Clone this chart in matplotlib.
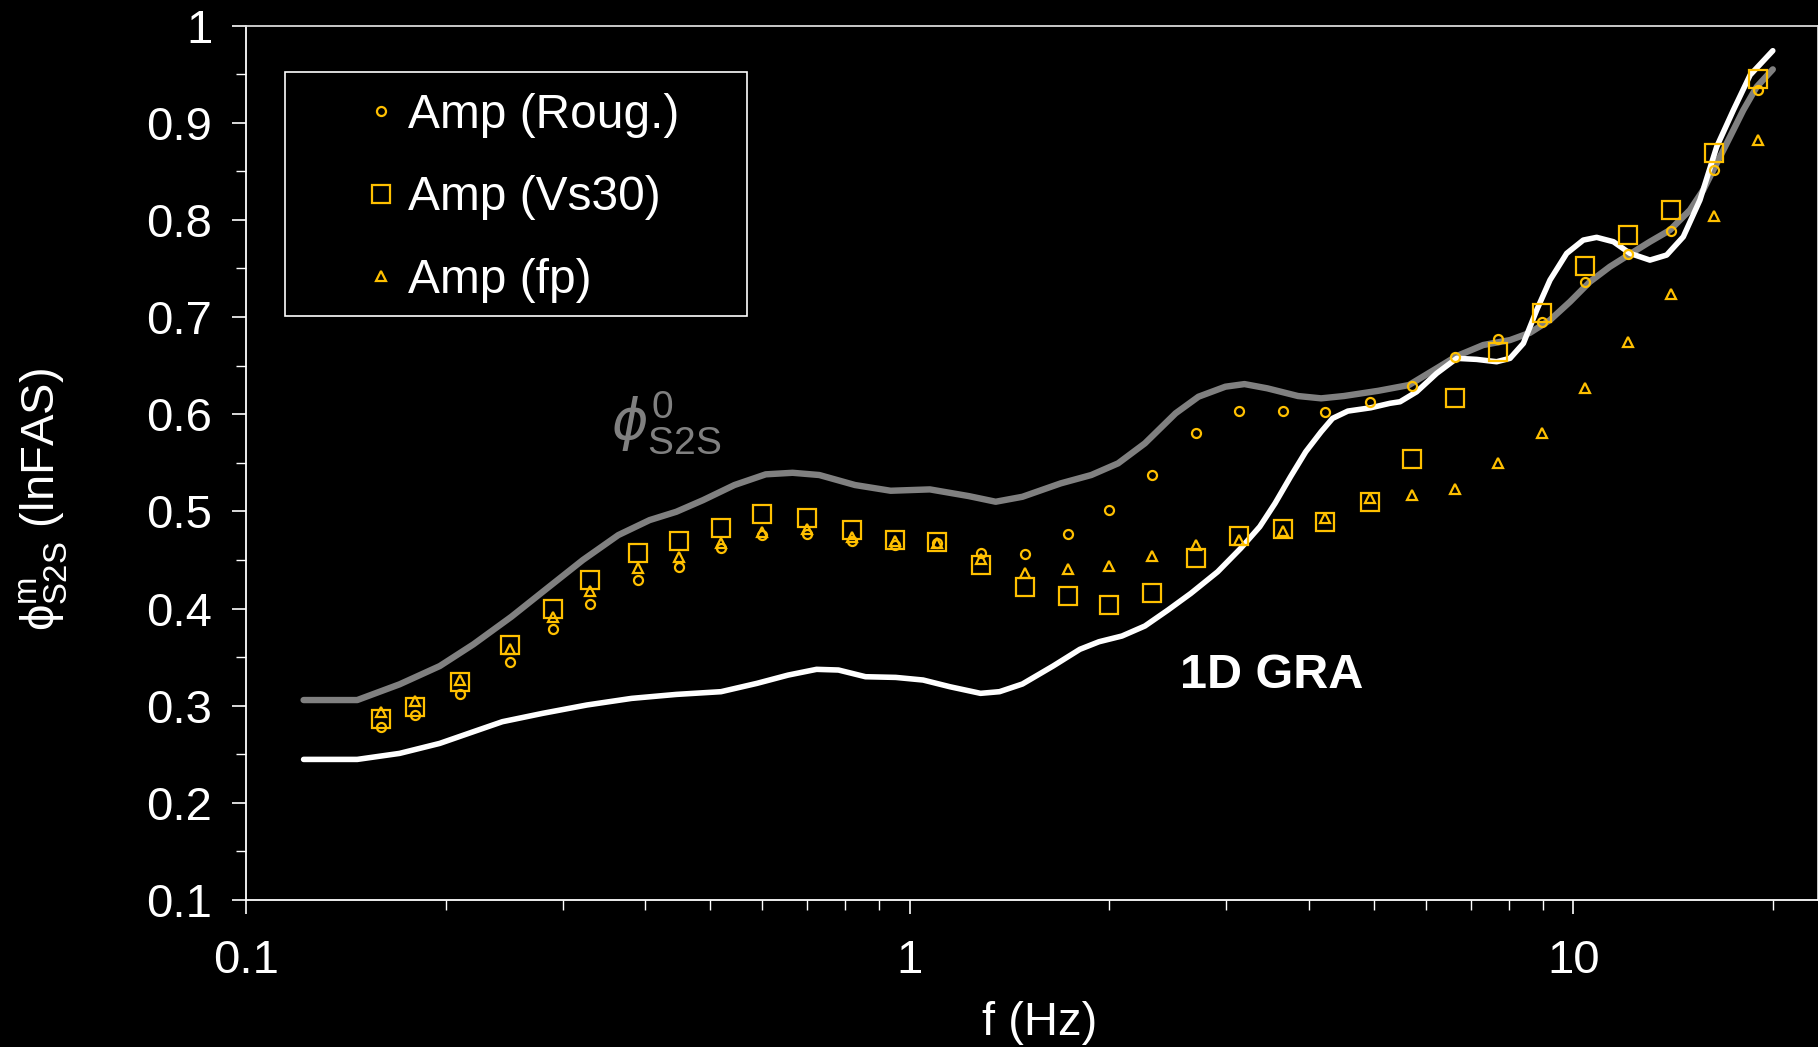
import matplotlib
matplotlib.use('Agg')
import matplotlib.pyplot as plt
from matplotlib.patches import Rectangle
from matplotlib.ticker import FixedLocator, MultipleLocator, NullFormatter, LogLocator

plt.rcParams['font.family'] = ['Liberation Sans', 'DejaVu Sans']
plt.rcParams['mathtext.fontset'] = 'custom'
plt.rcParams['mathtext.rm'] = 'Liberation Sans'
plt.rcParams['mathtext.it'] = 'DejaVu Sans:italic'

# frequencies of the amplification-model points (Hz)
freq = [0.160, 0.180, 0.210, 0.250, 0.290, 0.330, 0.390, 0.450, 0.520, 0.600, 0.700,
        0.820, 0.950, 1.10, 1.28, 1.49, 1.73, 2.00, 2.32, 2.70, 3.14, 3.65, 4.23,
        4.93, 5.72, 6.63, 7.70, 8.97, 10.41, 12.08, 14.02, 16.27, 18.96]
amp_roug = [0.278, 0.290, 0.312, 0.345, 0.379, 0.405, 0.429, 0.443, 0.462, 0.476, 0.477,
            0.469, 0.465, 0.467, 0.457, 0.456, 0.477, 0.501, 0.537, 0.581, 0.603, 0.603,
            0.602, 0.613, 0.629, 0.659, 0.677, 0.695, 0.736, 0.765, 0.789, 0.851, 0.934]
amp_vs30 = [0.286, 0.299, 0.324, 0.362, 0.400, 0.429, 0.457, 0.469, 0.483, 0.497, 0.493,
            0.481, 0.471, 0.468, 0.445, 0.422, 0.413, 0.404, 0.416, 0.452, 0.475, 0.482,
            0.489, 0.510, 0.554, 0.617, 0.664, 0.704, 0.753, 0.784, 0.810, 0.869, 0.945]
amp_fp = [0.294, 0.305, 0.326, 0.358, 0.391, 0.418, 0.442, 0.453, 0.467, 0.479, 0.482,
          0.474, 0.469, 0.467, 0.451, 0.437, 0.441, 0.444, 0.454, 0.465, 0.471, 0.480,
          0.493, 0.514, 0.517, 0.523, 0.550, 0.581, 0.627, 0.674, 0.724, 0.804, 0.882]

# phi0_S2S curve (grey)
f_phi0 = [0.1222, 0.1472, 0.1705, 0.196, 0.2202, 0.2512, 0.2843, 0.3219, 0.3641, 0.4058,
          0.4453, 0.4887, 0.5447, 0.6071, 0.6663, 0.7311, 0.8275, 0.9364, 1.073, 1.228,
          1.348, 1.479, 1.689, 1.878, 2.061, 2.262, 2.516, 2.724, 2.990, 3.195, 3.459,
          3.847, 4.168, 4.511, 5.085, 5.653, 6.223, 6.672, 7.315, 8.027, 8.602, 9.221,
          9.883, 10.59, 11.35, 12.17, 13.04, 13.98, 14.98, 15.69, 16.44, 17.22, 18.03,
          18.89, 19.97]
phi0 = [0.3058, 0.3058, 0.3220, 0.3408, 0.3631, 0.3915, 0.4207, 0.4499, 0.4756, 0.4910,
        0.4996, 0.5116, 0.5271, 0.5381, 0.5397, 0.5374, 0.5271, 0.5212, 0.5226, 0.5157,
        0.5099, 0.5150, 0.5288, 0.5374, 0.5494, 0.5700, 0.6009, 0.6180, 0.6283, 0.6310,
        0.6266, 0.6187, 0.6163, 0.6187, 0.6241, 0.6300, 0.6472, 0.6598, 0.6712, 0.6763,
        0.6838, 0.6969, 0.7157, 0.7363, 0.7518, 0.7648, 0.7775, 0.7895, 0.8101, 0.8307,
        0.8582, 0.8856, 0.9130, 0.9370, 0.9549]

# 1D GRA curve (white)
f_gra = [0.1222, 0.1472, 0.1705, 0.196, 0.2202, 0.2435, 0.2800, 0.3265, 0.3812, 0.4453,
         0.5199, 0.5891, 0.6563, 0.7242, 0.7813, 0.8582, 0.9529, 1.048, 1.150, 1.279,
         1.366, 1.479, 1.645, 1.805, 1.929, 2.089, 2.262, 2.450, 2.653, 2.911, 3.153,
         3.369, 3.552, 3.748, 3.952, 4.168, 4.337, 4.573, 4.951, 5.291, 5.481, 5.806,
         6.223, 6.672, 7.150, 7.662, 8.027, 8.407, 8.805, 9.221, 9.770, 10.35, 10.84,
         11.49, 12.17, 13.04, 13.82, 14.64, 15.51, 16.44, 17.42, 18.46, 19.97]
gra = [0.2447, 0.2447, 0.2509, 0.2612, 0.2732, 0.2835, 0.2921, 0.3007, 0.3075, 0.3116,
       0.3144, 0.3230, 0.3315, 0.3374, 0.3367, 0.3298, 0.3291, 0.3264, 0.3195, 0.3127,
       0.3144, 0.3223, 0.3408, 0.3580, 0.3658, 0.3717, 0.3820, 0.3984, 0.4156, 0.4378,
       0.4619, 0.4842, 0.5082, 0.5356, 0.5614, 0.5819, 0.5957, 0.6032, 0.6066, 0.6112,
       0.6128, 0.6231, 0.6420, 0.6575, 0.6564, 0.6540, 0.6575, 0.6729, 0.7072, 0.7381,
       0.7655, 0.7792, 0.7820, 0.7775, 0.7655, 0.7586, 0.7638, 0.7826, 0.8204, 0.8753,
       0.9130, 0.9491, 0.9741]

gold = '#FFC000'
grey = '#808080'

fig = plt.figure(figsize=(18.18, 10.47), dpi=100, facecolor='black')
ax = fig.add_axes([0.1352, 0.1404, 0.8648, 0.8352])
ax.set_facecolor('black')

ax.plot(f_phi0, phi0, color=grey, lw=4.6, solid_joinstyle='round', solid_capstyle='round', zorder=2)
ax.plot(f_gra, gra, color='white', lw=4.0, solid_joinstyle='round', solid_capstyle='round', zorder=3)

h1, = ax.plot(freq, amp_roug, ls='none', marker='o', ms=6.5, mfc='none', mec=gold, mew=1.6,
              label='Amp (Roug.)', zorder=5)
h2, = ax.plot(freq, amp_vs30, ls='none', marker='s', ms=13.5, mfc='none', mec=gold, mew=1.6,
              label='Amp (Vs30)', zorder=4)
h3, = ax.plot(freq, amp_fp, ls='none', marker='^', ms=6.5, mfc='none', mec=gold, mew=1.6,
              label='Amp (fp)', zorder=5)

ax.set_xscale('log')
ax.set_xlim(0.1, 23.36)
ax.set_ylim(0.1, 1.0)

ax.xaxis.set_major_locator(FixedLocator([0.1, 1, 10]))
ax.set_xticklabels(['0.1', '1', '10'])
ax.xaxis.set_minor_locator(LogLocator(base=10, subs=range(2, 10)))
ax.xaxis.set_minor_formatter(NullFormatter())

yt = [0.1, 0.2, 0.3, 0.4, 0.5, 0.6, 0.7, 0.8, 0.9, 1.0]
ax.yaxis.set_major_locator(FixedLocator(yt))
ax.set_yticklabels(['0.1', '0.2', '0.3', '0.4', '0.5', '0.6', '0.7', '0.8', '0.9', '1'])
ax.yaxis.set_minor_locator(MultipleLocator(0.05))

ax.tick_params(which='major', direction='out', length=10, width=1.2, colors='white', labelsize=34)
ax.tick_params(which='minor', direction='out', length=7.5, width=1.0, colors='white')
ax.tick_params(axis='x', which='major', pad=18)
ax.tick_params(axis='y', which='major', pad=14)

for side in ['left', 'bottom']:
    ax.spines[side].set_color('white')
    ax.spines[side].set_linewidth(1.3)
for side in ['top', 'right']:
    ax.spines[side].set_color('#d9d9d9')
    ax.spines[side].set_linewidth(1.3)

# labels
fig.text(0.572, 0.0113, 'f (Hz)', ha='center', va='baseline', fontsize=34, color='white')
fig.text(0.024, 0.523, r'$\mathrm{ϕ^{m}_{S2S}}$ (lnFAS)', rotation=90, ha='center', va='center',
         fontsize=34, color='white')

ax.text(0.355, 0.591, r'$\mathit{ϕ}^{\mathrm{0}}_{\mathrm{S2S}}$', ha='left', va='center',
        fontsize=40, color=grey)
ax.text(3.515, 0.3186, '1D GRA', ha='center', va='baseline', fontsize=35, fontweight='bold',
        color='white')

# legend
leg = ax.legend(handles=[h1, h2, h3], loc='upper left', bbox_to_anchor=(0.1966, 0.9111),
                bbox_transform=fig.transFigure, frameon=False, fontsize=34.5, borderpad=0,
                borderaxespad=0, handlelength=1.0, handletextpad=0.05, labelspacing=0.78,
                numpoints=1)
for t in leg.get_texts():
    t.set_color('white')
fig.patches.append(Rectangle((0.1568, 0.6982), 0.2541, 0.2330, transform=fig.transFigure,
                             fill=False, edgecolor='white', lw=1.2, figure=fig))

fig.savefig('out.png', dpi=100, facecolor='black')
